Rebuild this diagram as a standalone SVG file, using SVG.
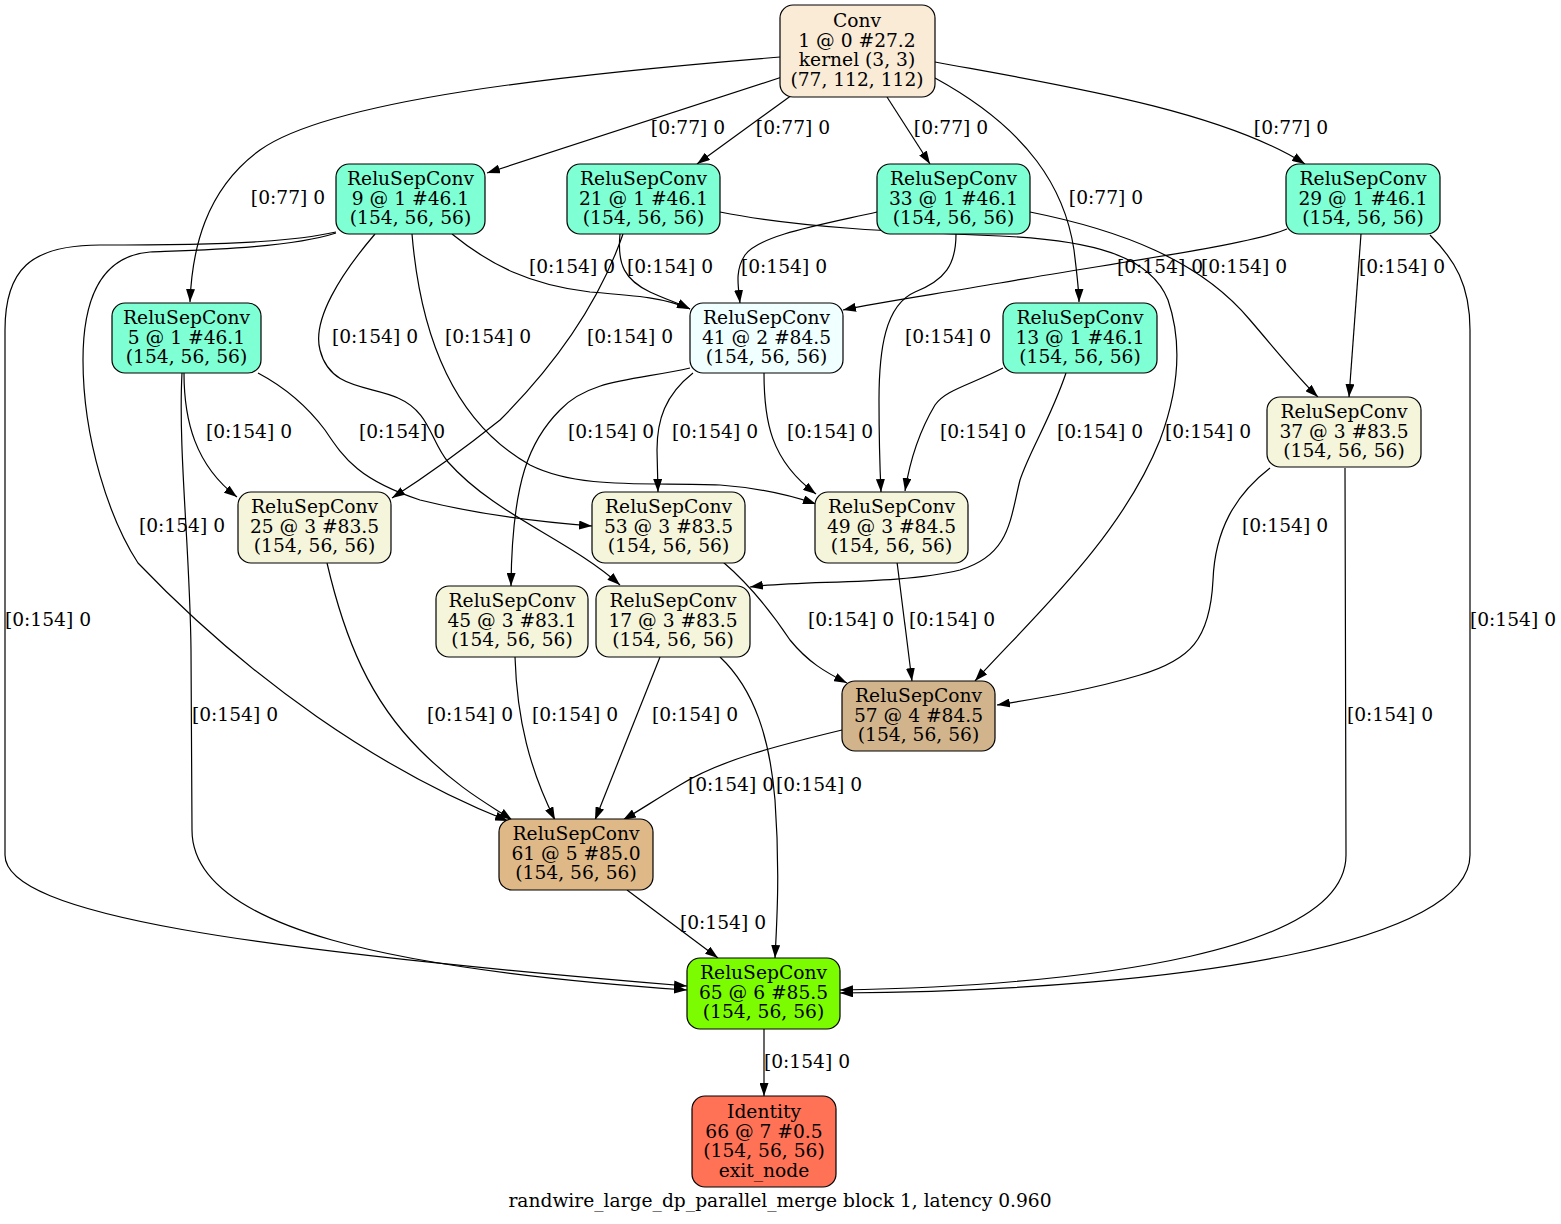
<svg xmlns="http://www.w3.org/2000/svg" width="1561" height="1224" viewBox="0 0 1561 1224">
<style>
.n rect{stroke:#000;stroke-width:1.2}
text{font-family:"DejaVu Serif","Liberation Serif",serif;font-size:18.67px;fill:#000;text-anchor:middle}
.e path{fill:none;stroke:#000;stroke-width:1.2;marker-end:url(#ah)}
.c1{fill:#7fffd4}.c3{fill:#f5f5dc}
</style>
<defs>
<marker id="ah" viewBox="0 0 13 9" refX="13" refY="4.5" markerWidth="13" markerHeight="9" markerUnits="userSpaceOnUse" orient="auto">
<path d="M0,0 L13,4.5 L0,9 z" fill="#000"/>
</marker>
</defs>
<rect width="1561" height="1224" fill="#fff"/>
<g id="edges" class="e">
<path d="M780,57 C560,75 330,100 260,150 C205,190 192,250 190,302"/>
<path d="M782,77 L487,173"/>
<path d="M792,95 L697,164"/>
<path d="M887,97 L930,164"/>
<path d="M935,78 C1030,130 1065,190 1074,250 C1077,275 1079,290 1079,302"/>
<path d="M935,62 C1060,85 1220,110 1305,164"/>
<path d="M336,232 C300,240 250,245 100,245 C30,245 5,270 5,330 L5,855 C5,915 250,950 687,986"/>
<path d="M336,233 C290,248 200,250 150,252 C100,256 83,300 83,360 C83,440 110,520 138,563 C250,680 380,770 508,821"/>
<path d="M375,234 C340,275 312,320 320,350 C330,390 370,385 398,398 C430,412 430,440 448,462 C495,515 570,540 620,585"/>
<path d="M412,234 C420,330 450,420 530,465 C580,490 650,482 720,485 C760,488 790,495 816,504"/>
<path d="M452,234 C490,265 530,285 590,292 C640,296 665,298 690,309"/>
<path d="M623,234 C600,300 560,360 500,420 C450,460 420,480 392,498"/>
<path d="M620,234 C617,265 625,280 650,292 C665,299 678,303 690,309"/>
<path d="M720,212 C800,228 900,232 1000,236 C1090,240 1150,255 1168,300 C1185,350 1175,400 1160,440 C1120,540 1030,620 975,681"/>
<path d="M877,212 C820,225 760,235 745,255 C735,270 738,285 740,303"/>
<path d="M956,234 C956,265 945,280 915,292 C885,305 879,350 879,400 C879,440 880,470 881,492"/>
<path d="M1030,212 C1120,230 1200,260 1250,320 C1280,355 1300,380 1318,397"/>
<path d="M1287,229 C1250,245 1100,265 1000,283 C930,295 880,302 843,310"/>
<path d="M1361,234 L1349,397"/>
<path d="M1430,235 C1455,260 1470,285 1470,330 L1470,855 C1470,940 1200,990 840,993"/>
<path d="M184,373 C184,420 195,465 237,497"/>
<path d="M258,373 C290,390 310,410 325,430 C345,460 360,480 420,500 C480,515 540,522 592,526"/>
<path d="M182,373 C178,450 190,550 191,650 L192,830 C192,930 400,970 687,990"/>
<path d="M690,368 C640,380 590,378 560,410 C530,440 512,480 511,586"/>
<path d="M693,373 C665,395 657,420 657,450 L658,492"/>
<path d="M764,373 C764,420 770,460 816,494"/>
<path d="M1003,368 C970,385 945,390 935,405 C920,430 910,460 905,491"/>
<path d="M1066,373 C1050,420 1030,450 1020,480 C1010,520 1010,555 960,570 C900,585 800,580 750,587"/>
<path d="M1270,468 C1235,495 1215,530 1213,580 C1210,640 1190,660 1140,675 C1090,690 1040,698 997,705"/>
<path d="M1345,468 L1346,855 C1346,950 1100,985 840,990"/>
<path d="M327,563 C345,640 370,700 420,750 C460,790 490,805 512,820"/>
<path d="M723,562 C750,585 770,610 790,640 C808,662 825,672 847,683"/>
<path d="M897,562 L912,681"/>
<path d="M515,657 C517,720 530,770 555,820"/>
<path d="M660,657 L595,820"/>
<path d="M720,657 C755,690 770,740 775,800 C780,870 777,920 775,958"/>
<path d="M842,730 C780,745 720,760 680,785 C655,800 640,810 623,820"/>
<path d="M627,890 L718,958"/>
<path d="M764,1029 L764,1096"/>
</g>
<g id="edge-labels">
<text x="688" y="134">[0:77] 0</text>
<text x="793" y="134">[0:77] 0</text>
<text x="951" y="134">[0:77] 0</text>
<text x="1291" y="134">[0:77] 0</text>
<text x="288" y="204">[0:77] 0</text>
<text x="1106" y="204">[0:77] 0</text>
<text x="572" y="273">[0:154] 0</text>
<text x="670" y="273">[0:154] 0</text>
<text x="784" y="273">[0:154] 0</text>
<text x="1160" y="273">[0:154] 0</text>
<text x="1244" y="273">[0:154] 0</text>
<text x="1402" y="273">[0:154] 0</text>
<text x="375" y="343">[0:154] 0</text>
<text x="488" y="343">[0:154] 0</text>
<text x="630" y="343">[0:154] 0</text>
<text x="948" y="343">[0:154] 0</text>
<text x="249" y="438">[0:154] 0</text>
<text x="402" y="438">[0:154] 0</text>
<text x="611" y="438">[0:154] 0</text>
<text x="715" y="438">[0:154] 0</text>
<text x="830" y="438">[0:154] 0</text>
<text x="983" y="438">[0:154] 0</text>
<text x="1100" y="438">[0:154] 0</text>
<text x="1208" y="438">[0:154] 0</text>
<text x="182" y="532">[0:154] 0</text>
<text x="1285" y="532">[0:154] 0</text>
<text x="48" y="626">[0:154] 0</text>
<text x="851" y="626">[0:154] 0</text>
<text x="952" y="626">[0:154] 0</text>
<text x="1513" y="626">[0:154] 0</text>
<text x="235" y="721">[0:154] 0</text>
<text x="470" y="721">[0:154] 0</text>
<text x="575" y="721">[0:154] 0</text>
<text x="695" y="721">[0:154] 0</text>
<text x="1390" y="721">[0:154] 0</text>
<text x="731" y="791">[0:154] 0</text>
<text x="819" y="791">[0:154] 0</text>
<text x="723" y="929">[0:154] 0</text>
<text x="807" y="1068">[0:154] 0</text>
</g>
<g id="n1" class="n"><rect x="780" y="5" width="155" height="92" rx="13" fill="#faebd7"/>
<text x="857" y="27">Conv</text><text x="857" y="46.5">1 @ 0 #27.2</text><text x="857" y="66">kernel (3, 3)</text><text x="857" y="85.5">(77, 112, 112)</text></g>
<g id="n9" class="n"><rect x="336" y="164" width="149" height="70" rx="13" class="c1"/>
<text x="410.5" y="185">ReluSepConv</text><text x="410.5" y="204.5">9 @ 1 #46.1</text><text x="410.5" y="224">(154, 56, 56)</text></g>
<g id="n21" class="n"><rect x="567" y="164" width="153" height="70" rx="13" class="c1"/>
<text x="643.5" y="185">ReluSepConv</text><text x="643.5" y="204.5">21 @ 1 #46.1</text><text x="643.5" y="224">(154, 56, 56)</text></g>
<g id="n33" class="n"><rect x="877" y="164" width="153" height="70" rx="13" class="c1"/>
<text x="953.5" y="185">ReluSepConv</text><text x="953.5" y="204.5">33 @ 1 #46.1</text><text x="953.5" y="224">(154, 56, 56)</text></g>
<g id="n29" class="n"><rect x="1286" y="164" width="154" height="70" rx="13" class="c1"/>
<text x="1363" y="185">ReluSepConv</text><text x="1363" y="204.5">29 @ 1 #46.1</text><text x="1363" y="224">(154, 56, 56)</text></g>
<g id="n5" class="n"><rect x="112" y="303" width="149" height="70" rx="13" class="c1"/>
<text x="186.5" y="324">ReluSepConv</text><text x="186.5" y="343.5">5 @ 1 #46.1</text><text x="186.5" y="363">(154, 56, 56)</text></g>
<g id="n41" class="n"><rect x="690" y="303" width="153" height="70" rx="13" fill="#f0ffff"/>
<text x="766.5" y="324">ReluSepConv</text><text x="766.5" y="343.5">41 @ 2 #84.5</text><text x="766.5" y="363">(154, 56, 56)</text></g>
<g id="n13" class="n"><rect x="1003" y="303" width="154" height="70" rx="13" class="c1"/>
<text x="1080" y="324">ReluSepConv</text><text x="1080" y="343.5">13 @ 1 #46.1</text><text x="1080" y="363">(154, 56, 56)</text></g>
<g id="n37" class="n"><rect x="1267" y="397" width="154" height="70" rx="13" class="c3"/>
<text x="1344" y="418">ReluSepConv</text><text x="1344" y="437.5">37 @ 3 #83.5</text><text x="1344" y="457">(154, 56, 56)</text></g>
<g id="n25" class="n"><rect x="238" y="492" width="153" height="71" rx="13" class="c3"/>
<text x="314.5" y="513">ReluSepConv</text><text x="314.5" y="532.5">25 @ 3 #83.5</text><text x="314.5" y="552">(154, 56, 56)</text></g>
<g id="n53" class="n"><rect x="592" y="492" width="153" height="71" rx="13" class="c3"/>
<text x="668.5" y="513">ReluSepConv</text><text x="668.5" y="532.5">53 @ 3 #83.5</text><text x="668.5" y="552">(154, 56, 56)</text></g>
<g id="n49" class="n"><rect x="815" y="492" width="153" height="71" rx="13" class="c3"/>
<text x="891.5" y="513">ReluSepConv</text><text x="891.5" y="532.5">49 @ 3 #84.5</text><text x="891.5" y="552">(154, 56, 56)</text></g>
<g id="n45" class="n"><rect x="436" y="586" width="152" height="71" rx="13" class="c3"/>
<text x="512" y="607">ReluSepConv</text><text x="512" y="626.5">45 @ 3 #83.1</text><text x="512" y="646">(154, 56, 56)</text></g>
<g id="n17" class="n"><rect x="596" y="586" width="154" height="71" rx="13" class="c3"/>
<text x="673" y="607">ReluSepConv</text><text x="673" y="626.5">17 @ 3 #83.5</text><text x="673" y="646">(154, 56, 56)</text></g>
<g id="n57" class="n"><rect x="842" y="681" width="153" height="70" rx="13" fill="#d2b48c"/>
<text x="918.5" y="702">ReluSepConv</text><text x="918.5" y="721.5">57 @ 4 #84.5</text><text x="918.5" y="741">(154, 56, 56)</text></g>
<g id="n61" class="n"><rect x="499" y="819" width="154" height="71" rx="13" fill="#deb887"/>
<text x="576" y="840">ReluSepConv</text><text x="576" y="859.5">61 @ 5 #85.0</text><text x="576" y="879">(154, 56, 56)</text></g>
<g id="n65" class="n"><rect x="687" y="958" width="153" height="71" rx="13" fill="#7cfc00"/>
<text x="763.5" y="979">ReluSepConv</text><text x="763.5" y="998.5">65 @ 6 #85.5</text><text x="763.5" y="1018">(154, 56, 56)</text></g>
<g id="n66" class="n"><rect x="692" y="1096" width="144" height="91" rx="13" fill="#ff7256"/>
<text x="764" y="1118">Identity</text><text x="764" y="1137.5">66 @ 7 #0.5</text><text x="764" y="1157">(154, 56, 56)</text><text x="764" y="1176.5">exit_node</text></g>
<text x="780" y="1207">randwire_large_dp_parallel_merge block 1, latency 0.960</text>
</svg>
